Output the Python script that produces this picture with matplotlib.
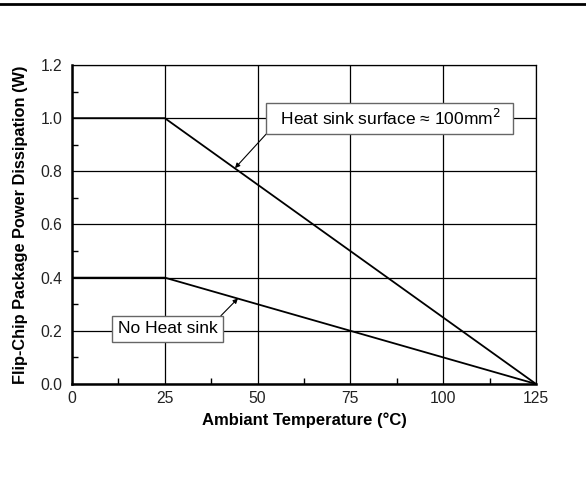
import matplotlib
matplotlib.use("Agg")
import matplotlib.pyplot as plt
from matplotlib.lines import Line2D
from matplotlib.ticker import MultipleLocator

plt.rcParams['font.family'] = ['Liberation Sans', 'DejaVu Sans']

temp_heatsink = [0, 25, 125]
power_heatsink = [1.0, 1.0, 0.0]
temp_noheatsink = [0, 25, 125]
power_noheatsink = [0.4, 0.4, 0.0]

x_ticks = [0, 25, 50, 75, 100, 125]
y_ticks = [0.0, 0.2, 0.4, 0.6, 0.8, 1.0, 1.2]

fig = plt.figure(figsize=(5.86, 4.78), dpi=100)
ax = fig.add_axes([0.1229, 0.1967, 0.7918, 0.6673])

ax.plot(temp_heatsink, power_heatsink, color='black', lw=1.3, zorder=3)
ax.plot(temp_noheatsink, power_noheatsink, color='black', lw=1.3, zorder=3)

ax.set_xlim(0, 125)
ax.set_ylim(0, 1.2)
ax.set_xticks(x_ticks)
ax.set_yticks(y_ticks)
ax.set_xticklabels([str(v) for v in x_ticks])
ax.set_yticklabels([f"{v:.1f}" for v in y_ticks])
ax.xaxis.set_minor_locator(MultipleLocator(12.5))
ax.yaxis.set_minor_locator(MultipleLocator(0.1))
ax.grid(True, which='major', color='black', lw=0.9)
ax.tick_params(which='both', direction='in', labelsize=11.3, color='black', labelcolor='#222222')
ax.tick_params(which='major', length=0)
ax.tick_params(axis='x', which='major', pad=5)
ax.tick_params(axis='y', which='major', pad=7)
ax.tick_params(which='minor', length=4, width=1)
ax.tick_params(axis='x', which='both', top=False)
ax.tick_params(axis='y', which='both', right=False)
for s in ['left', 'bottom']:
    ax.spines[s].set_linewidth(1.8)
for s in ['top', 'right']:
    ax.spines[s].set_linewidth(0.9)

ax.set_xlabel("Ambiant Temperature (°C)", fontsize=12, fontweight='bold', labelpad=5)
ax.set_ylabel("Flip-Chip Package Power Dissipation (W)", fontsize=11.8, fontweight='bold', labelpad=9)

bbox = dict(boxstyle='square,pad=0.3', fc='white', ec='#666666', lw=1)
ax.annotate("  Heat sink surface ≈ 100mm$^2$  ", xy=(43.9, 0.812), xytext=(85.5, 0.999),
            ha='center', va='center', fontsize=12.5, bbox=bbox,
            arrowprops=dict(arrowstyle='-|>', color='black', lw=0.8, mutation_scale=7,
                            shrinkA=0, shrinkB=0, relpos=(0, 0)), zorder=5)
ax.annotate("No Heat sink", xy=(44.7, 0.322), xytext=(25.7, 0.207),
            ha='center', va='center', fontsize=12.5, bbox=bbox,
            arrowprops=dict(arrowstyle='-|>', color='black', lw=0.8, mutation_scale=7,
                            shrinkA=0, shrinkB=0, relpos=(0.98, 1)), zorder=5)

fig.add_artist(Line2D([0, 1], [1 - 4/478, 1 - 4/478], transform=fig.transFigure,
                      color='black', lw=2))

fig.savefig("out.png", dpi=100)
